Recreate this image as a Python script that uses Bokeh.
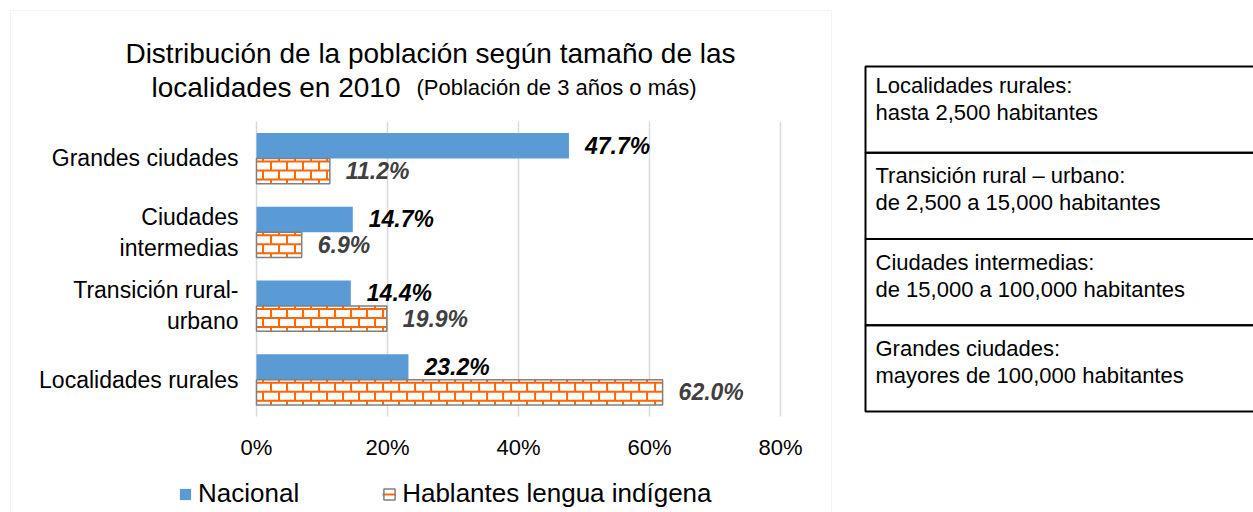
from bokeh.plotting import figure
from bokeh.layouts import row
from bokeh.models import (Range1d, FixedTicker, Label, Legend, LegendItem, ColumnDataSource,
                          BoxAnnotation)
from bokeh.embed import file_html
from bokeh.resources import INLINE
from bokeh.core.properties import value

# ---------------- data ----------------
categories = ["Localidades rurales", "Transición rural-urbano", "Ciudades intermedias", "Grandes ciudades"]
category_labels = ["Localidades rurales", "Transición rural-\nurbano", "Ciudades\nintermedias", "Grandes ciudades"]
nacional = [23.2, 14.4, 14.7, 47.7]
hablantes = [62.0, 19.9, 6.9, 11.2]
series_names = ["Nacional", "Hablantes lengua indígena"]
x_ticks = [0, 20, 40, 60, 80]
x_tick_labels = ["0%", "20%", "40%", "60%", "80%"]
title_lines = ["Distribución de la población según tamaño de las", "localidades en 2010"]
title_note = "(Población de 3 años o más)"
table_titles = ["Localidades rurales:", "Transición rural – urbano:", "Ciudades intermedias:", "Grandes ciudades:"]
table_ranges = ["hasta 2,500 habitantes", "de 2,500 a 15,000 habitantes",
                "de 15,000 a 100,000 habitantes", "mayores de 100,000 habitantes"]

FONT = "Liberation Sans"
BLUE = "#5b9bd5"
ORANGE = "#ff6600"
GRID = "#d9d9d9"
HATCH_EDGE = "#808080"

BAR_H = 0.345
centers = [i + 0.5 for i in range(len(categories))]

# ---------------- layout geometry (pixels) ----------------
CW, H = 832, 512            # chart canvas
PLOT_L, PLOT_B, PLOT_T = 256, 416, 121   # plot area: 0% at x=256, category band from 416 up to 121
PX_PER_PCT = 6.55
PX_PER_CAT = (PLOT_B - PLOT_T) / 4.0

p = figure(width=CW, height=H,
           x_range=Range1d(-PLOT_L / PX_PER_PCT, (CW - PLOT_L) / PX_PER_PCT),
           y_range=Range1d(-(H - PLOT_B) / PX_PER_CAT, 4 + PLOT_T / PX_PER_CAT),
           output_backend="svg", toolbar_location=None, min_border=0,
           outline_line_color=None, background_fill_color="white", border_fill_color="white")
p.grid.visible = False

# axes placed at the plot-area origin
p.xaxis.fixed_location = 0
p.yaxis.fixed_location = 0
p.xaxis.ticker = FixedTicker(ticks=x_ticks)
p.xaxis.major_label_overrides = {t: l for t, l in zip(x_ticks, x_tick_labels)}
p.yaxis.ticker = FixedTicker(ticks=centers)
p.yaxis.major_label_overrides = {c: l for c, l in zip(centers, category_labels)}
for ax in (p.xaxis[0], p.yaxis[0]):
    ax.axis_line_color = None
    ax.major_tick_line_color = None
    ax.minor_tick_line_color = None
    ax.major_tick_out = 0
    ax.major_tick_in = 0
    ax.major_label_text_font = FONT
    ax.major_label_text_color = "#000000"
p.xaxis.major_label_text_font_size = "22px"
p.xaxis.major_label_standoff = 18
p.yaxis.major_label_text_font_size = "23px"
p.yaxis.major_label_standoff = 18

# vertical gridlines over the category band only
p.segment(x0=x_ticks, y0=[0] * len(x_ticks), x1=x_ticks, y1=[len(categories)] * len(x_ticks),
          line_color=GRID, line_width=1.5)

src_n = ColumnDataSource(dict(y=[c + BAR_H / 2 for c in centers], v=nacional))
src_h = ColumnDataSource(dict(y=[c - BAR_H / 2 for c in centers], v=hablantes))
r_nac = p.hbar(y="y", right="v", left=0, height=BAR_H, source=src_n, fill_color=BLUE, line_color=None)
r_hab_fill = p.hbar(y="y", right="v", left=0, height=BAR_H, source=src_h, fill_color="white", line_color=None)

# brick texture for the second series, built from the bar extents
BRICK_H = 0.122   # brick height in category units (about 9 px)
BRICK_W = 2.443   # brick width in percent units (about 16 px)
hx0, hx1, hy = [], [], []
vx, vy0, vy1 = [], [], []
for c, v in zip(centers, hablantes):
    top, bottom = c, c - BAR_H
    lines = []
    yk = top - 0.041
    while yk > bottom + 0.01:
        lines.append(yk)
        yk -= BRICK_H
    for yl in lines:
        hx0.append(0); hx1.append(v); hy.append(yl)
    edges = [top] + lines + [bottom]
    for b in range(len(edges) - 1):
        y_hi, y_lo = edges[b], edges[b + 1]
        xk = 1.0 + (BRICK_W / 2 if b % 2 else 0)
        while xk < v - 0.2:
            vx.append(xk); vy0.append(y_lo); vy1.append(y_hi)
            xk += BRICK_W
r_hab_h = p.segment(x0=hx0, y0=hy, x1=hx1, y1=hy, line_color=ORANGE, line_width=2)
p.segment(x0=vx, y0=vy0, x1=vx, y1=vy1, line_color=ORANGE, line_width=2)
r_hab_edge = p.hbar(y="y", right="v", left=0, height=BAR_H, source=src_h,
                    fill_color=None, line_color=HATCH_EDGE, line_width=1.5)

p.text(x=nacional, y=[c + BAR_H / 2 for c in centers], text=[f"{v:.1f}%" for v in nacional],
       x_offset=16, text_align="left", text_baseline="middle", text_font=value(FONT),
       text_font_style="bold italic", text_font_size="23px", text_color="#000000")
p.text(x=hablantes, y=[c - BAR_H / 2 for c in centers], text=[f"{v:.1f}%" for v in hablantes],
       x_offset=16, text_align="left", text_baseline="middle", text_font=value(FONT),
       text_font_style="bold italic", text_font_size="23px", text_color="#404040")


def scr_y(py):
    # screen units are measured from the frame's bottom edge, upwards
    return H - py


# chart area border
p.add_layout(BoxAnnotation(left=10, right=831, top=scr_y(10), bottom=-6,
                           left_units="screen", right_units="screen", top_units="screen",
                           bottom_units="screen", fill_color=None, fill_alpha=0,
                           line_color=GRID, line_width=1, level="underlay"))

# title
p.add_layout(Label(x=430, y=scr_y(53), x_units="screen", y_units="screen", text=title_lines[0],
                   text_font=FONT, text_font_size="28px", text_color="#000000",
                   text_align="center", text_baseline="alphabetic"))
p.add_layout(Label(x=400, y=scr_y(87), x_units="screen", y_units="screen", text=title_lines[1],
                   text_font=FONT, text_font_size="28px", text_color="#000000",
                   text_align="right", text_baseline="alphabetic"))
p.add_layout(Label(x=416, y=scr_y(87), x_units="screen", y_units="screen", text=title_note,
                   text_font=FONT, text_font_size="22px", text_color="#000000",
                   text_align="left", text_baseline="alphabetic"))

# legend
legend = Legend(items=[LegendItem(label=series_names[0], renderers=[r_nac]),
                       LegendItem(label=series_names[1], renderers=[r_hab_fill, r_hab_h, r_hab_edge])],
                location=(178, 3), orientation="horizontal", padding=0, margin=0, spacing=83,
                label_standoff=6, glyph_width=14, glyph_height=14,
                label_text_font=FONT, label_text_font_size="26px", label_text_color="#000000",
                border_line_alpha=0, background_fill_alpha=0)
p.add_layout(legend)

# ---------------- side table ----------------
TX = CW
TW = 1253 - TX
tb = figure(width=TW, height=H, x_range=Range1d(0, TW), y_range=Range1d(H, 0),
            output_backend="svg", toolbar_location=None, min_border=0, outline_line_color=None,
            background_fill_color="white", border_fill_color="white")
tb.axis.visible = False
tb.grid.visible = False
T_TOP, T_ROW = 66, 86.25
tops = [T_TOP + i * T_ROW for i in range(len(table_titles))]
tb.quad(left=[865 - TX] * len(tops), right=[1262 - TX] * len(tops), top=tops,
        bottom=[t + T_ROW for t in tops], fill_color=None, line_color="#000000", line_width=2)
for i, (t, t1, t2) in enumerate(zip(tops, table_titles, table_ranges)):
    dy = -4 if i == 0 else 0
    tb.add_layout(Label(x=875 - TX, y=t + 23 + dy, text=t1, text_font=FONT, text_font_size="22px",
                        text_color="#000000", text_align="left", text_baseline="alphabetic"))
    tb.add_layout(Label(x=875 - TX, y=t + 50 + dy, text=t2, text_font=FONT, text_font_size="22px",
                        text_color="#000000", text_align="left", text_baseline="alphabetic"))

layout = row(p, tb, spacing=0)
open("out.html", "w").write(file_html(layout, INLINE))
